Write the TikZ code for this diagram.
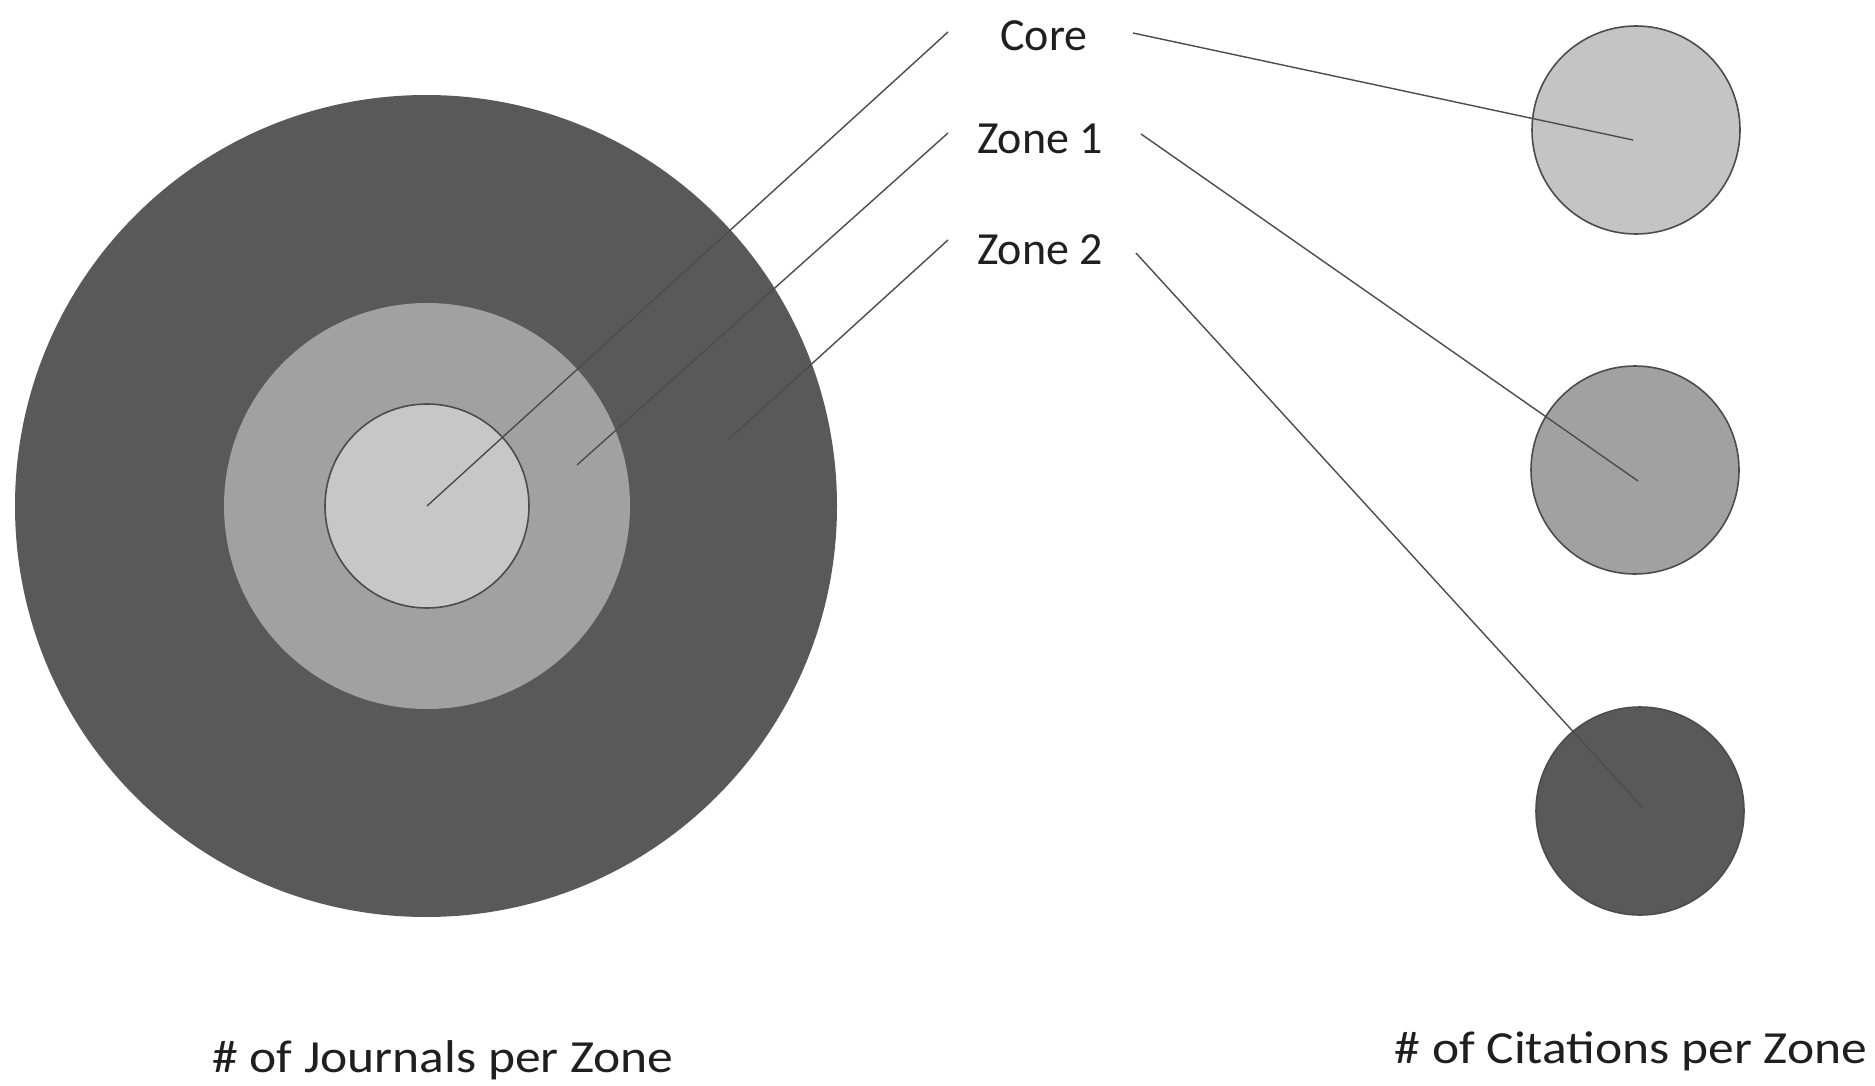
\documentclass[tikz,border=0pt]{standalone}
\usepackage{fontspec}
\setmainfont{Carlito}
\begin{document}
\begin{tikzpicture}[x=1pt,y=-1pt,
  disc/.style={circle,draw=black!70,line width=1.6pt,inner sep=0pt},
  lbl/.style={font=\fontsize{46}{52}\selectfont,text=black!88,inner sep=2pt},
  caption/.style={lbl,xscale=1.12,transform shape},
  leader/.style={draw=black!70,line width=1.4pt}]
\useasboundingbox[fill=white] (0,0) rectangle (1875,1086);
% left concentric circles
\node[disc,draw=none,fill=black!65,minimum size=822pt] (outer) at (426,506) {};
\node[disc,fill=black!37,draw=none,minimum size=406pt] (mid) at (427,506) {};
\node[disc,fill=black!22,minimum size=204pt] (inner) at (427,506) {};
% right circles
\node[disc,fill=black!23,minimum size=208pt] (rc) at (1636,130) {};
\node[disc,fill=black!37,minimum size=208pt] (r1) at (1635,470) {};
\node[disc,fill=black!65,minimum size=208pt] (r2) at (1640,811) {};
% labels
\node[lbl] (core) at (1044,36) {Core};
\node[lbl] (z1) at (1040,139) {Zone 1};
\node[lbl] (z2) at (1040,250) {Zone 2};
\node[caption] (jl) at (443,1060) {\# of Journals per Zone};
\node[caption] (cl) at (1631,1051) {\# of Citations per Zone};
% leader end points
\coordinate (coreL) at (948,32);
\coordinate (z1L) at (948,133);
\coordinate (z2L) at (948,240);
\coordinate (coreR) at (1133,33);
\coordinate (z1R) at (1141,134);
\coordinate (z2R) at (1136,253);
\coordinate (z1in) at (577,465);
\coordinate (z2in) at (728,440);
\coordinate (rcin) at (1633,140);
\coordinate (r1in) at (1638,481);
\coordinate (r2in) at (1642,807);
% leaders
\draw[leader] (coreL) -- (inner.center);
\draw[leader] (z1L) -- (z1in);
\draw[leader] (z2L) -- (z2in);
\draw[leader] (coreR) -- (rcin);
\draw[leader] (z1R) -- (r1in);
\draw[leader] (z2R) -- (r2in);
\end{tikzpicture}
\end{document}
